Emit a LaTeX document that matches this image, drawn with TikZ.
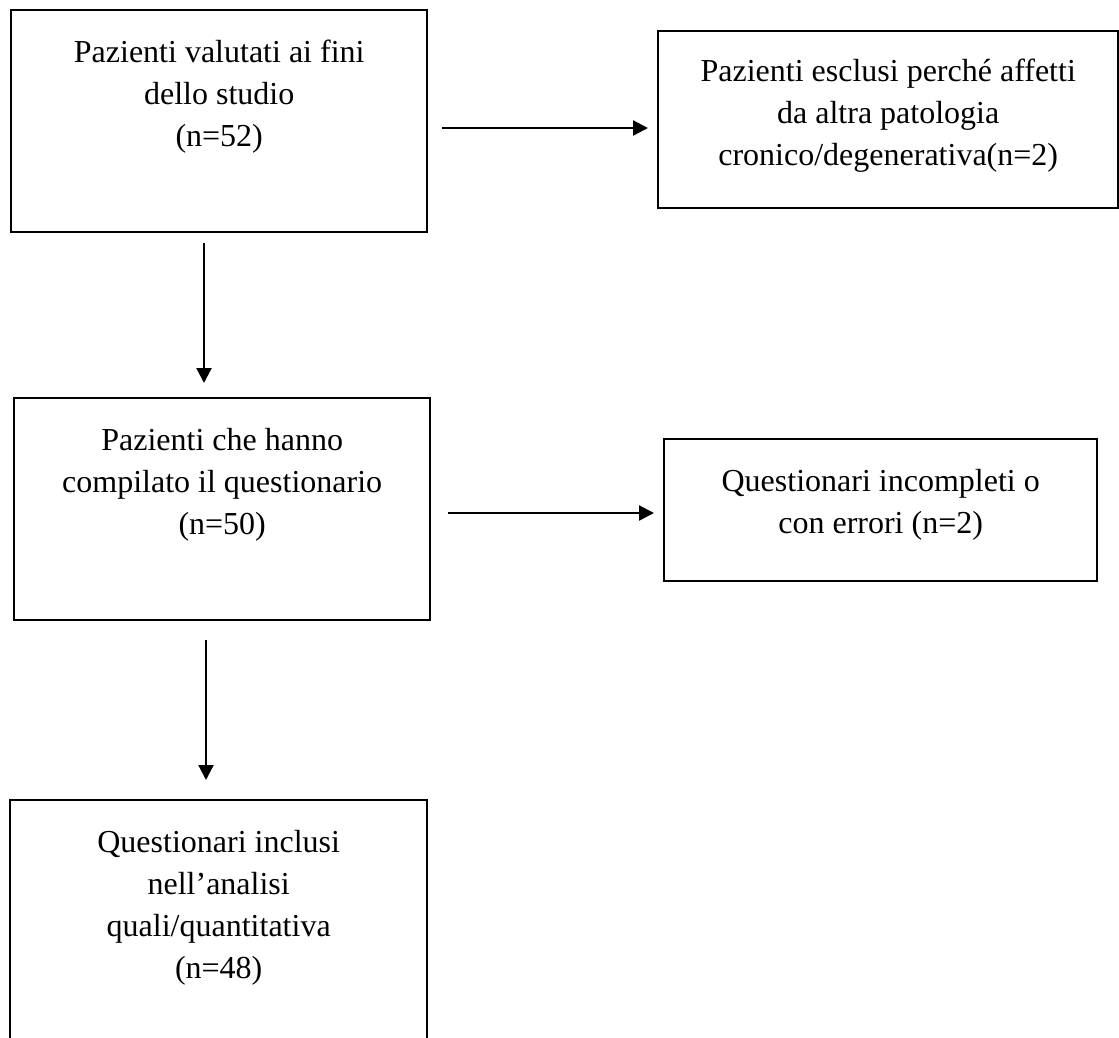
\documentclass[tikz,border=0pt]{standalone}
\usepackage{fontspec}
\setmainfont{Liberation Serif}
\usetikzlibrary{arrows.meta}

\begin{document}
\begin{tikzpicture}[
  x=1pt, y=-1pt,
  box/.style={draw, line width=2.4pt, inner sep=0pt, anchor=north west},
  txt/.style={inner sep=0pt, anchor=north, align=center, font=\fontsize{32}{42}\selectfont},
  arr/.style={line width=2.2pt, -{Triangle[length=15pt, width=15pt]}}
]
\clip (0,0) rectangle (1119,1037);
\fill [white] (0,0) rectangle (1119,1037);

\node [box, minimum width=416pt, minimum height=222pt] (valutati) at (10,9) {};
\node [box, minimum width=460pt, minimum height=177pt] (esclusi) at (657,30) {};
\node [box, minimum width=416pt, minimum height=222pt] (compilato) at (13,397) {};
\node [box, minimum width=433pt, minimum height=142pt] (incompleti) at (663,438) {};
\node [box, minimum width=417pt, minimum height=270pt] (inclusi) at (9,799) {};

\node [txt] (t-valutati) at ([yshift=-31pt]valutati.north) {Pazienti valutati ai fini\\ dello studio\\ (n=52)};
\node [txt] (t-esclusi) at ([yshift=-29pt]esclusi.north) {Pazienti esclusi perché affetti\\ da altra patologia\\ cronico/degenerativa(n=2)};
\node [txt] (t-compilato) at ([yshift=-31pt]compilato.north) {Pazienti che hanno\\ compilato il questionario\\ (n=50)};
\node [txt] (t-incompleti) at ([yshift=-31pt]incompleti.north) {Questionari incompleti o\\ con errori (n=2)};
\node [txt] (t-inclusi) at ([yshift=-31pt]inclusi.north) {Questionari inclusi\\ nell’analisi\\ quali/quantitativa\\ (n=48)};

\draw [arr, shorten <=14pt, shorten >=9pt] (valutati.east |- 0,128) -- (esclusi.west |- 0,128);
\draw [arr, shorten <=10pt, shorten >=14pt] (valutati.south -| 204,0) -- (compilato.north -| 204,0);
\draw [arr, shorten <=17pt, shorten >=9pt] (compilato.east |- 0,513) -- (incompleti.west |- 0,513);
\draw [arr, shorten <=19pt, shorten >=19pt] (compilato.south -| 206,0) -- (inclusi.north -| 206,0);
\end{tikzpicture}
\end{document}
